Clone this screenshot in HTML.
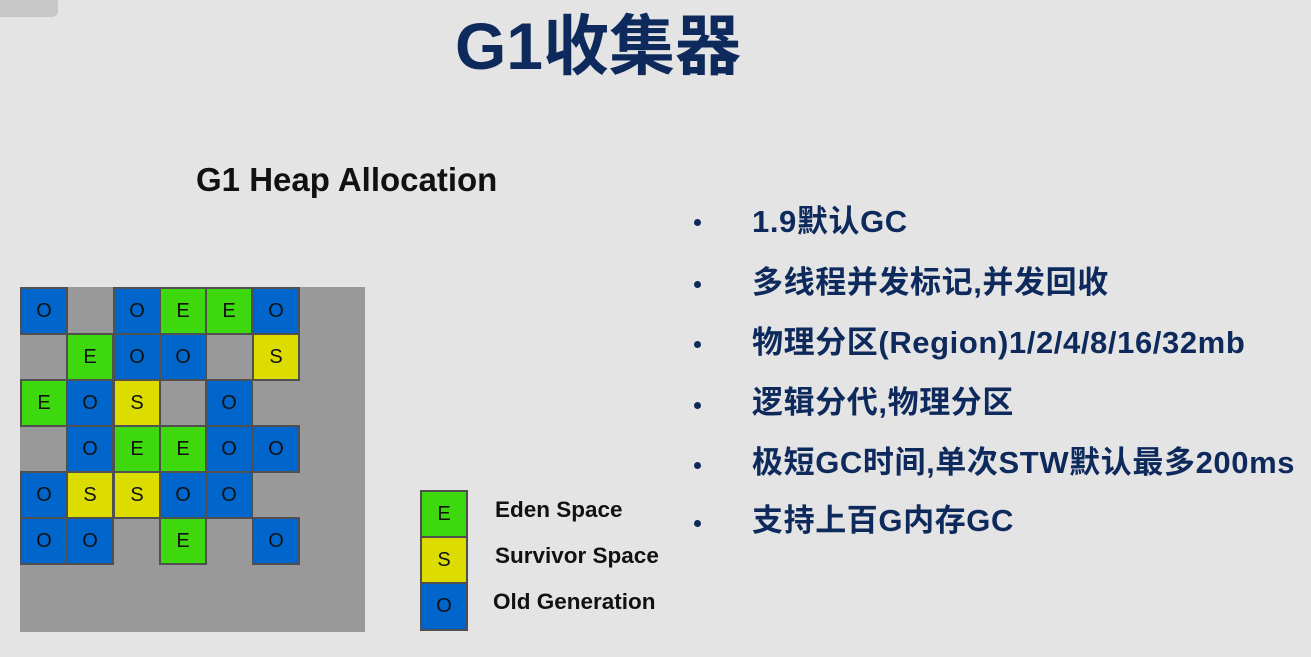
<!DOCTYPE html>
<html><head><meta charset="utf-8"><style>
body{margin:0;width:1311px;height:657px;background:#e4e4e4;position:relative;overflow:hidden;font-family:"Liberation Sans","Noto Sans CJK SC",sans-serif}
.a{position:absolute;white-space:nowrap}
.t{left:0;width:1196px;text-align:center;top:6px;font-size:66px;font-weight:bold;color:#0e2a5c;line-height:80px}
.b{font-size:31px;font-weight:bold;color:#0e2a5c;line-height:40px;letter-spacing:0.6px}
.dot{position:absolute;width:7px;height:7px;border-radius:50%;background:#0e2a5c;left:694px}
.c{position:absolute;width:48px;height:48px;border:2.5px solid #505050;box-sizing:border-box;display:flex;align-items:center;justify-content:center;font-size:20px;color:#111}
.E{background:#3ed80e}.S{background:#dcdc00}.O{background:#0066cc}
.lg{font-size:22.5px;font-weight:bold;color:#111}
</style></head><body>
<div class="a" style="left:0;top:0;width:58px;height:17px;background:#c8c8c8;border-radius:0 0 6px 0"></div>
<div class="a t">G1收集器</div>
<div class="a" style="left:196px;top:161px;font-size:33px;font-weight:bold;color:#111">G1 Heap Allocation</div>
<div class="a" style="left:20px;top:287px;width:345px;height:345px;background:#999"></div>
<div class="c E" style="left:420px;top:490px;width:48px;height:48px">E</div>
<div class="c S" style="left:420px;top:536px;width:48px;height:48px">S</div>
<div class="c O" style="left:420px;top:582px;width:48px;height:49px">O</div>
<div class="a lg" style="left:495px;top:497px">Eden Space</div>
<div class="a lg" style="left:495px;top:543px">Survivor Space</div>
<div class="a lg" style="left:493px;top:589px">Old Generation</div>
<div class="dot" style="top:219px"></div><div class="a b" style="left:752px;top:202px">1.9默认GC</div>
<div class="dot" style="top:281px"></div><div class="a b" style="left:752px;top:263px">多线程并发标记,并发回收</div>
<div class="dot" style="top:341px"></div><div class="a b" style="left:752px;top:323px">物理分区(Region)1/2/4/8/16/32mb</div>
<div class="dot" style="top:402px"></div><div class="a b" style="left:752px;top:383px">逻辑分代,物理分区</div>
<div class="dot" style="top:462px"></div><div class="a b" style="left:752px;top:443px">极短GC时间,单次STW默认最多200ms</div>
<div class="dot" style="top:520px"></div><div class="a b" style="left:752px;top:501px">支持上百G内存GC</div>
<div style="position:absolute;left:0;top:0">
<div class="c O" style="left:20px;top:287px">O</div>
<div class="c O" style="left:113px;top:287px">O</div>
<div class="c E" style="left:159px;top:287px">E</div>
<div class="c E" style="left:205px;top:287px">E</div>
<div class="c O" style="left:252px;top:287px">O</div>
<div class="c E" style="left:66px;top:333px">E</div>
<div class="c O" style="left:113px;top:333px">O</div>
<div class="c O" style="left:159px;top:333px">O</div>
<div class="c S" style="left:252px;top:333px">S</div>
<div class="c E" style="left:20px;top:379px">E</div>
<div class="c O" style="left:66px;top:379px">O</div>
<div class="c S" style="left:113px;top:379px">S</div>
<div class="c O" style="left:205px;top:379px">O</div>
<div class="c O" style="left:66px;top:425px">O</div>
<div class="c E" style="left:113px;top:425px">E</div>
<div class="c E" style="left:159px;top:425px">E</div>
<div class="c O" style="left:205px;top:425px">O</div>
<div class="c O" style="left:252px;top:425px">O</div>
<div class="c O" style="left:20px;top:471px">O</div>
<div class="c S" style="left:66px;top:471px">S</div>
<div class="c S" style="left:113px;top:471px">S</div>
<div class="c O" style="left:159px;top:471px">O</div>
<div class="c O" style="left:205px;top:471px">O</div>
<div class="c O" style="left:20px;top:517px">O</div>
<div class="c O" style="left:66px;top:517px">O</div>
<div class="c E" style="left:159px;top:517px">E</div>
<div class="c O" style="left:252px;top:517px">O</div>
</div>
</body></html>
